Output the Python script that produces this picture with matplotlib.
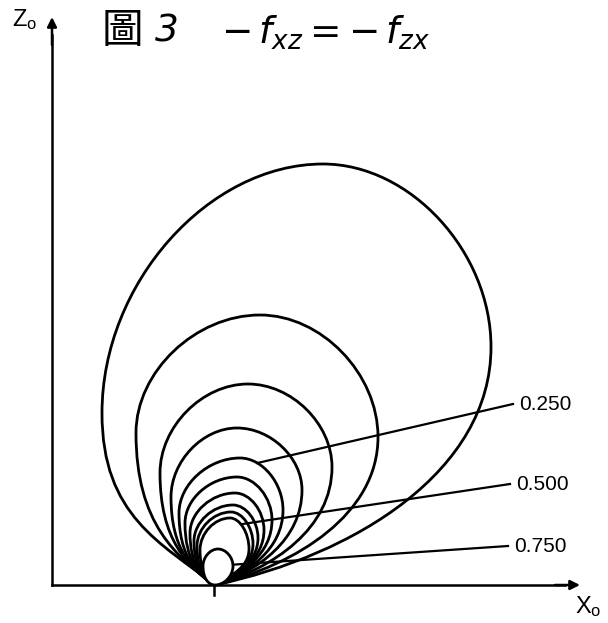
import numpy as np
import matplotlib.pyplot as plt
from matplotlib.path import Path
from matplotlib.patches import PathPatch

# contour levels and the extreme points of each closed curve, in (x0, z0)
levels = [0.05, 0.10, 0.15, 0.20, 0.25, 0.30, 0.35, 0.40, 0.45, 0.50, 0.75]
top_x = [1.08, 0.45, 0.33, 0.22, 0.25, 0.22, 0.20, 0.18, 0.16, 0.15, 0.03]
top_z = [4.21, 2.70, 2.01, 1.57, 1.27, 1.08, 0.92, 0.80, 0.73, 0.67, 0.36]
left_x = [-1.13, -0.79, -0.55, -0.44, -0.36, -0.30, -0.25, -0.21, -0.18, -0.15, -0.12]
left_z = [1.72, 1.52, 1.12, 0.88, 0.72, 0.62, 0.52, 0.44, 0.39, 0.35, 0.19]
right_x = [2.76, 1.63, 1.17, 0.87, 0.68, 0.57, 0.49, 0.43, 0.38, 0.34, 0.18]
right_z = [2.38, 1.48, 1.18, 0.95, 0.75, 0.65, 0.55, 0.47, 0.41, 0.36, 0.19]
# angle (deg) at which each curve runs into the origin, left and right side
foot_l = [38, 36, 34, 32, 30, 28, 26, 24, 22, 20, 0]
foot_r = [12, 14, 16, 18, 20, 22, 24, 26, 28, 30, 0]

labelled = ["0.250", "0.500", "0.750"]

K = 0.52   # bezier handle ratio
KB = 0.60  # bezier handle ratio, lower left arc


def curve_path(i):
    L = np.array([left_x[i], left_z[i]])
    T = np.array([top_x[i], top_z[i]])
    R = np.array([right_x[i], right_z[i]])
    O = np.zeros(2)
    aL, aR = np.radians(foot_l[i]), np.radians(foot_r[i])
    verts = [O,
             O + KB * abs(L[0]) * np.array([-np.cos(aL), np.sin(aL)]),
             L - [0, KB * L[1]], L,
             L + [0, K * (T[1] - L[1])], T - [K * (T[0] - L[0]), 0], T,
             T + [K * (R[0] - T[0]), 0], R + [0, K * (T[1] - R[1])], R,
             R - [0, K * R[1]],
             O + K * R[0] * np.array([np.cos(aR), np.sin(aR)]), O]
    codes = [Path.MOVETO] + [Path.CURVE4] * 12
    return Path(verts, codes)


def point_on_top_right(i, t):
    T = np.array([top_x[i], top_z[i]])
    R = np.array([right_x[i], right_z[i]])
    P1 = T + [K * (R[0] - T[0]), 0]
    P2 = R + [0, K * (T[1] - R[1])]
    return ((1 - t) ** 3 * T + 3 * (1 - t) ** 2 * t * P1
            + 3 * (1 - t) * t ** 2 * P2 + t ** 3 * R)


fig = plt.figure(figsize=(6.08, 6.23), dpi=100)
ax = fig.add_axes([0, 0, 1, 1])
ax.set_xlim(-2.15, 3.93)
ax.set_ylim(-0.38, 5.85)
ax.axis("off")

for i in range(len(levels)):
    ax.add_patch(PathPatch(curve_path(i), facecolor="white" if levels[i] >= 0.75 else "none",
                           edgecolor="black", lw=2.0, zorder=3))

# axes with arrow heads
ax.plot([-1.63, -1.63], [0, 5.5], color="black", lw=1.8)
ax.plot([-1.63, 3.5], [0, 0], color="black", lw=1.8)
arrow = dict(arrowstyle="-|>", color="black", lw=1.8, mutation_scale=14,
             shrinkA=0, shrinkB=0)
ax.annotate("", xy=(-1.63, 5.68), xytext=(-1.63, 5.4), arrowprops=arrow)
ax.annotate("", xy=(3.65, 0), xytext=(3.4, 0), arrowprops=arrow)
ax.plot([-0.01, -0.01], [0, -0.1], color="black", lw=1.8)

ax.text(-1.90, 5.65, r"$\mathregular{Z_o}$", fontsize=17, ha="center", va="center",
        family="Liberation Sans")
ax.text(3.73, -0.22, r"$\mathregular{X_o}$", fontsize=17, ha="center", va="center",
        family="Liberation Sans")

# leader lines from the level labels to their curves
label_pos = [(2.98, 1.81), (2.95, 1.01), (2.93, 0.39)]
label_t = [0.27, 0.4, 0.95]
for lab, (lx, lz), t in zip(labelled, label_pos, label_t):
    i = levels.index(float(lab))
    px, pz = point_on_top_right(i, t)
    ax.plot([px, lx], [pz, lz], color="black", lw=1.6, zorder=4)
    ax.text(lx + 0.06, lz, lab, fontsize=15, ha="left", va="center",
            family="Liberation Sans")

ax.text(-1.13, 5.54, "圖", fontsize=30, ha="left", va="center",
        family=["Noto Sans CJK TC", "DejaVu Sans"])
ax.text(-0.60, 5.54, "3", fontsize=27, ha="left", va="center", style="italic")
ax.text(0.06, 5.52, r"$-\,f_{xz} = -\,f_{zx}$", fontsize=27, ha="left", va="center")

fig.savefig("out.png", dpi=100, facecolor="white")
